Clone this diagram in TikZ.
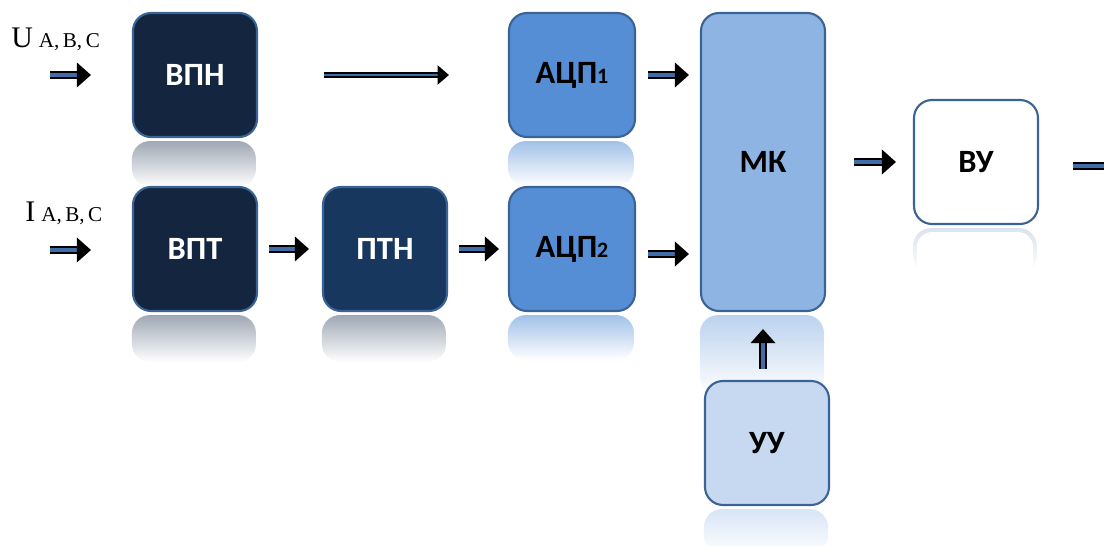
\documentclass[tikz,border=0pt]{standalone}
\usepackage{fontspec}
\setmainfont{Liberation Serif}
\newfontfamily\boxfont{Carlito}
\usetikzlibrary{arrows.meta,backgrounds}
\definecolor{navy}{HTML}{13253F}
\definecolor{navytwo}{HTML}{17375E}
\definecolor{midblue}{HTML}{558ED5}
\definecolor{lightblue}{HTML}{8EB4E3}
\definecolor{paleblue}{HTML}{C6D9F1}
\definecolor{edge}{HTML}{3B6396}
\definecolor{arrowblue}{HTML}{3F6DA8}
\definecolor{greyrefl}{HTML}{9FA8B5}
\tikzset{
  block/.style={draw=edge, line width=1.2pt, rounded corners=0.36cm,
    minimum width=2.48cm, minimum height=2.48cm, inner sep=0pt,
    font={\boxfont\bfseries\fontsize{18.5pt}{20pt}\selectfont}},
  fat/.style={draw=black, line width=1.1pt, double=arrowblue, double distance=2.4pt,
    -{Triangle[length=8pt,width=14pt]}},
  longarr/.style={draw=black, line width=0.9pt, double=arrowblue, double distance=1.6pt,
    -{Triangle[length=6.5pt,width=11pt]}},
  refl/.style={rounded corners=0.36cm, bottom color=white}
}

\begin{document}
\begin{tikzpicture}
\useasboundingbox (0,0) rectangle (22.08,-10.92);
\node[block, fill=navy, text=white] (vpn) at (3.9,-1.5) {ВПН};
\node[block, fill=navy, text=white] (vpt) at (3.9,-4.98) {ВПТ};
\node[block, fill=navytwo, text=white] (ptn) at (7.7,-4.98) {ПТН};
\node[block, fill=midblue, minimum width=2.52cm] (adc1) at (11.44,-1.5) {АЦП{\fontsize{12.5pt}{13pt}\selectfont 1}};
\node[block, fill=midblue, minimum width=2.52cm] (adc2) at (11.44,-4.98) {АЦП{\fontsize{12.5pt}{13pt}\selectfont 2}};
\node[block, fill=lightblue, minimum height=5.96cm] (mk) at (15.26,-3.24) {МК};
\node[block, fill=paleblue] (uu) at (15.34,-8.86) {УУ};
\node[block, fill=white] (vu) at (19.52,-3.24) {ВУ};

\begin{scope}[on background layer]
\shade[refl, top color=greyrefl] ([yshift=-0.06cm]vpn.south west) rectangle ++(2.48,-0.92);
\shade[refl, top color=greyrefl] ([yshift=-0.06cm]vpt.south west) rectangle ++(2.48,-0.94);
\shade[refl, top color=greyrefl] ([yshift=-0.06cm]ptn.south west) rectangle ++(2.48,-0.94);
\shade[refl, top color=midblue!55] ([yshift=-0.06cm]adc1.south west) rectangle ++(2.52,-0.9);
\shade[refl, top color=midblue!55] ([yshift=-0.06cm]adc2.south west) rectangle ++(2.52,-0.9);
\shade[refl, top color=lightblue!60] ([yshift=-0.06cm]mk.south west) rectangle ++(2.48,-1.6);
\shade[refl, top color=paleblue!70] ([yshift=-0.06cm]uu.south west) rectangle ++(2.48,-0.9);
\shade[refl, top color=edge!18] ([yshift=-0.06cm]vu.south west) rectangle ++(2.48,-0.9);
\fill[white] ([xshift=0.08cm,yshift=-0.14cm]vu.south west) [rounded corners=0.3cm] rectangle ++(2.32,-0.9);
\end{scope}

\node[anchor=base west, inner sep=0pt] (ulab) at (0.22,-0.96)
  {\fontsize{17pt}{18pt}\selectfont U\hspace{0.12cm}{\fontsize{12pt}{13pt}\selectfont A,\,B,\,C}};
\node[anchor=base west, inner sep=0pt] (ilab) at (0.5,-4.44)
  {\fontsize{17pt}{18pt}\selectfont I\hspace{0.12cm}{\fontsize{12pt}{13pt}\selectfont A,\,B,\,C}};
\coordinate (uin) at (1.0,-1.5);
\coordinate (iin) at (1.0,-5.0);
\coordinate (out) at (22.6,-3.32);

\draw[fat, shorten >=0.82cm] (uin) -- (vpn);
\draw[fat, shorten >=0.82cm] (iin) -- (vpt.west |- iin);
\draw[longarr, shorten <=1.32cm, shorten >=1.18cm] (vpn) -- (adc1);
\draw[fat, shorten <=0.22cm, shorten >=0.26cm] (vpt) -- (ptn);
\draw[fat, shorten <=0.22cm, shorten >=0.18cm] (ptn) -- (adc2);
\draw[fat, shorten <=0.24cm, shorten >=0.22cm] (adc1) -- (adc1 -| mk.west);
\draw[fat, shorten <=0.24cm, shorten >=0.22cm] ([yshift=-0.1cm]adc2.east) -- ([yshift=-0.1cm]adc2.east -| mk.west);
\draw[fat, shorten <=0.22cm, shorten >=0.34cm] (uu.north -| mk) -- (mk.south);
\draw[fat, shorten <=0.56cm, shorten >=0.34cm] (mk) -- (vu);
\draw[fat, shorten <=0.68cm] (vu.east |- out) -- (out);
\end{tikzpicture}
\end{document}
